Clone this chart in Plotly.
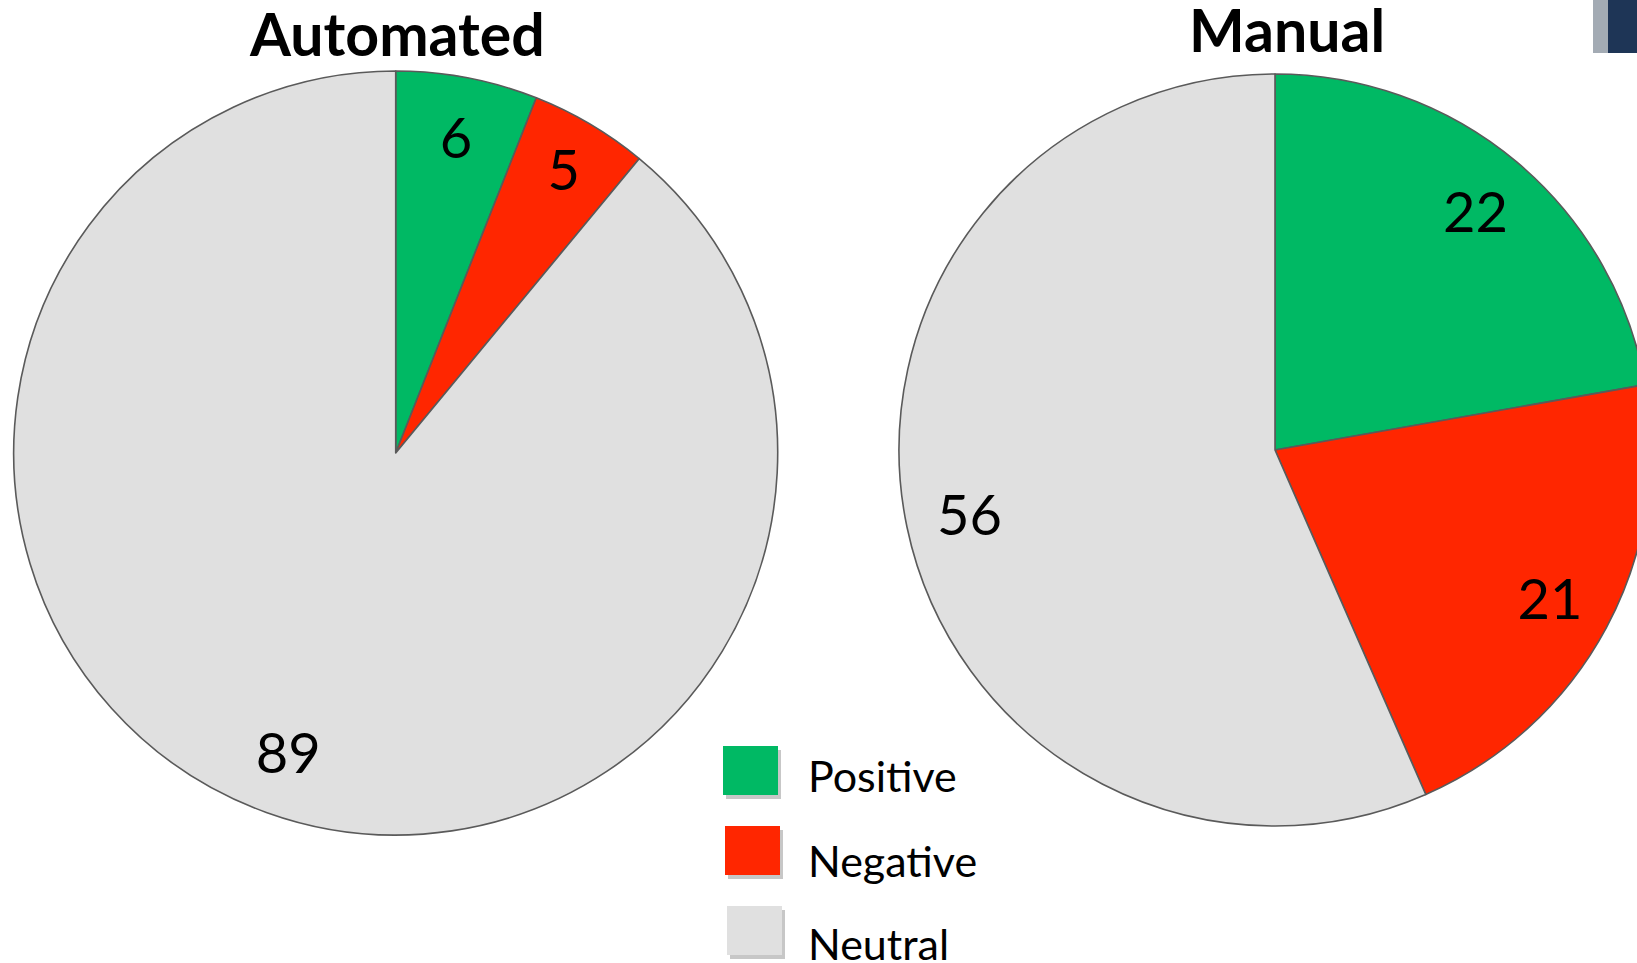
import plotly.graph_objects as go

# ---- data ----
categories = ["Positive", "Negative", "Neutral"]
automated_values = [6, 5, 89]
manual_values = [22, 21, 56]
chart_titles = ["Automated", "Manual"]

# ---- styles ----
colors = ["#00B964", "#FF2600", "#E0E0E0"]
W, H = 1660, 963
FONT = "Lato, 'Open Sans', sans-serif"


def px_x(v):
    return v / W


def px_y(v):
    return 1 - v / H


fig = go.Figure()

pies = [
    (automated_values, (13.6, 777.8), (71, 835)),
    (manual_values, (899, 1651), (74, 826)),
]

for vals, (x0, x1), (y0, y1) in pies:
    dom = dict(x=[px_x(x0), px_x(x1)], y=[px_y(y1), px_y(y0)])
    # filled slices
    fig.add_trace(go.Pie(
        labels=categories, values=vals, sort=False, direction="clockwise",
        rotation=0, domain=dom, textinfo="none", hoverinfo="label+value",
        marker=dict(colors=colors, line=dict(color="#5A5A5A", width=1.6)),
        showlegend=False,
    ))
    # transparent ring that carries the value labels near the rim
    fig.add_trace(go.Pie(
        labels=categories, values=vals, sort=False, direction="clockwise",
        rotation=0, domain=dom, hole=0.66, textinfo="value",
        textposition="inside", insidetextorientation="horizontal",
        textfont=dict(family=FONT, size=56, color="black"),
        marker=dict(colors=["rgba(0,0,0,0)"] * 3, line=dict(width=0)),
        hoverinfo="skip", showlegend=False,
    ))

# titles
title_pos = [(397, 33), (1287, 29)]
for t, (x, y) in zip(chart_titles, title_pos):
    fig.add_annotation(text="<b>" + t + "</b>", x=px_x(x), y=px_y(y),
                       xref="paper", yref="paper", showarrow=False,
                       xanchor="center", yanchor="middle",
                       font=dict(family=FONT, size=59, color="black"))

# legend (large swatches)
box_x = [723, 725, 727]
box_y = [746, 826, 906]
text_y = [775, 860, 943]
for i, cat in enumerate(categories):
    bx, by = box_x[i], box_y[i]
    fig.add_shape(type="rect", xref="paper", yref="paper",
                  x0=px_x(bx + 3), x1=px_x(bx + 58), y0=px_y(by + 53), y1=px_y(by + 4),
                  fillcolor="rgba(0,0,0,0.22)", line=dict(width=0), layer="below")
    fig.add_shape(type="rect", xref="paper", yref="paper",
                  x0=px_x(bx), x1=px_x(bx + 55), y0=px_y(by + 49), y1=px_y(by),
                  fillcolor=colors[i], line=dict(width=0))
    fig.add_annotation(text=cat, x=px_x(806), y=px_y(text_y[i]),
                       xref="paper", yref="paper", showarrow=False,
                       xanchor="left", yanchor="middle",
                       font=dict(family=FONT, size=43, color="black"))

# corner decoration (slide artefact)
fig.add_shape(type="rect", xref="paper", yref="paper",
              x0=px_x(1593), x1=px_x(1608), y0=px_y(53), y1=px_y(0),
              fillcolor="#A3ABB4", line=dict(width=0))
fig.add_shape(type="rect", xref="paper", yref="paper",
              x0=px_x(1608), x1=px_x(1660), y0=px_y(53), y1=px_y(0),
              fillcolor="#1E3556", line=dict(width=0))

fig.update_layout(
    width=W, height=H,
    margin=dict(l=0, r=0, t=0, b=0),
    paper_bgcolor="white", plot_bgcolor="white",
    uniformtext=dict(minsize=56, mode="show"),
    showlegend=False,
)

fig.write_html(
    "out.html",
    post_script="document.body.style.margin='0';document.body.style.overflow='hidden';",
)
